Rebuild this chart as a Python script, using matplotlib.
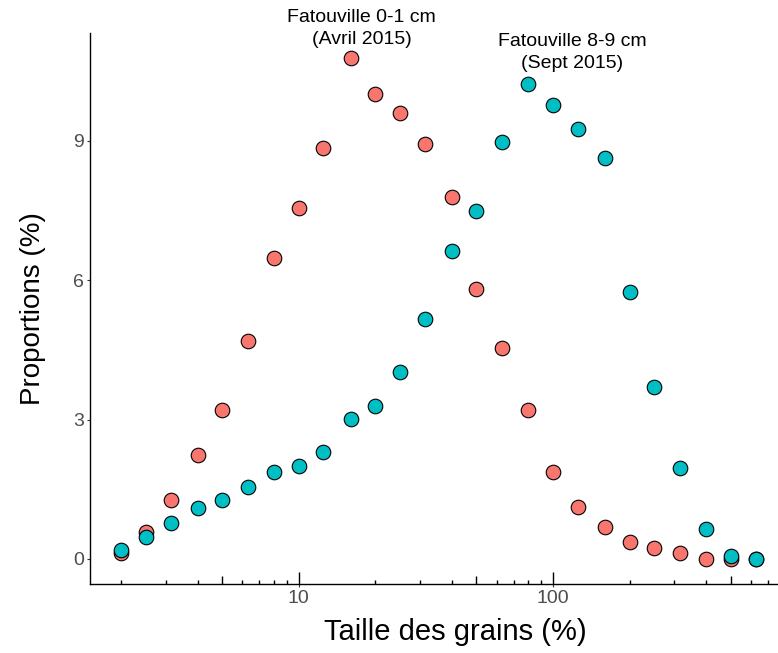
import numpy as np
import matplotlib
matplotlib.use("Agg")
import matplotlib.pyplot as plt

plt.rcParams['font.family'] = ['Liberation Sans', 'DejaVu Sans']

# tailles des grains (classes)
taille = [2, 2.5, 3.15, 4, 5, 6.3, 8, 10, 12.5, 16, 20, 25, 31.5, 40, 50,
          63, 80, 100, 125, 160, 200, 250, 315, 400, 500, 630]

# Fatouville 0-1 cm (Avril 2015)
prop_avril = [0.13, 0.58, 1.27, 2.24, 3.21, 4.68, 6.47, 7.56, 8.84, 10.78,
              10.0, 9.59, 8.94, 7.80, 5.80, 4.53, 3.21, 1.88, 1.12, 0.69,
              0.37, 0.24, 0.13, 0.0, 0.0, 0.0]

# Fatouville 8-9 cm (Sept 2015)
prop_sept = [0.19, 0.47, 0.78, 1.10, 1.27, 1.55, 1.88, 2.00, 2.31, 3.02,
             3.30, 4.03, 5.17, 6.62, 7.48, 8.97, 10.22, 9.78, 9.25, 8.62,
             5.75, 3.69, 1.96, 0.65, 0.06, 0.0]

rouge = "#F8766D"
bleu = "#00BFC4"

fig = plt.figure(figsize=(7.78, 6.53), dpi=100)
ax = fig.add_axes([90/778, 69/653, 698/778, 551/653])

ax.scatter(taille, prop_avril, s=110, color=rouge, edgecolor="black",
           linewidth=0.8, zorder=3, clip_on=False)
ax.scatter(taille, prop_sept, s=110, color=bleu, edgecolor="black",
           linewidth=0.8, zorder=4, clip_on=False)

ax.set_xscale("log")
ax.set_xlim(1.51, 840)
ax.set_ylim(-0.54, 11.32)

ax.set_yticks([0, 3, 6, 9])
ax.set_xticks([10, 100])
ax.set_xticklabels(["10", "100"])
ax.set_xticks([], minor=True)

for s in ["top", "right"]:
    ax.spines[s].set_visible(False)
for s in ["left", "bottom"]:
    ax.spines[s].set_linewidth(1.0)
    ax.spines[s].set_color("black")

ax.tick_params(axis="both", which="major", direction="out", length=2.5,
               width=0.8, color="#333333", labelsize=14,
               labelcolor="#4D4D4D", pad=2)

# log ticks vers l'interieur (style annotation_logticks)
courts = [m * 10**k for k in range(0, 3) for m in [2, 3, 4, 6, 7, 8, 9]]
courts = [c for c in courts if 1.51 <= c <= 840]
moyens = [5, 50, 500]
longs = [10, 100]
trans = ax.get_xaxis_transform()
ax.vlines(courts, 0, 4/551, transform=trans, color="black", linewidth=1.0)
ax.vlines(moyens, 0, 8/551, transform=trans, color="black", linewidth=1.0)
ax.vlines(longs, 0, 12/551, transform=trans, color="black", linewidth=1.0)

ax.set_xlabel("Taille des grains (%)", fontsize=21, color="black")
ax.xaxis.set_label_coords(0.523, -0.062)
ax.set_ylabel("Proportions (%)", fontsize=20, color="black")
ax.yaxis.set_label_coords(-0.063, 0.5)

ax.text(17.7, 11.42, "Fatouville 0-1 cm\n(Avril 2015)", ha="center",
        va="center", fontsize=14, linespacing=1.35, clip_on=False)
ax.text(118.8, 10.90, "Fatouville 8-9 cm\n(Sept 2015)", ha="center",
        va="center", fontsize=14, linespacing=1.35, clip_on=False)

fig.savefig("out.png", dpi=100)
